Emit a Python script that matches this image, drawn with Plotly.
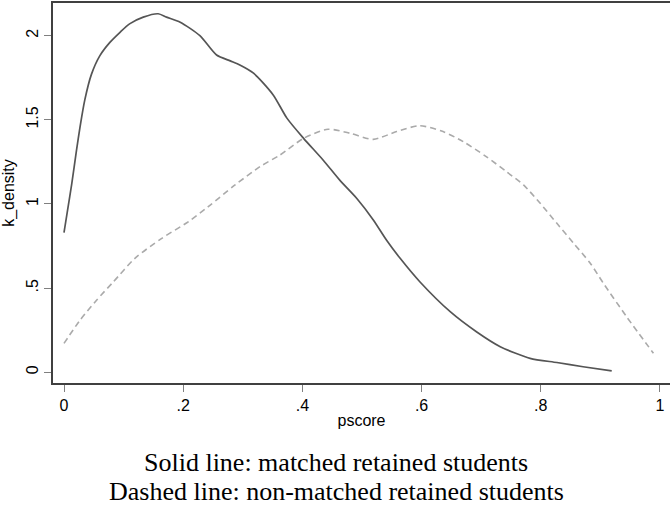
import plotly.graph_objects as go

# Solid line: matched retained students
matched_x = [0, 0.006, 0.013, 0.021, 0.027, 0.035, 0.046, 0.06, 0.077, 0.094, 0.11, 0.133,
             0.158, 0.172, 0.195, 0.228, 0.256, 0.279, 0.295, 0.318, 0.351, 0.374, 0.402,
             0.435, 0.463, 0.491, 0.519, 0.541, 0.564, 0.597, 0.648, 0.692, 0.732, 0.782,
             0.827, 0.871, 0.919]
matched_y = [0.83, 0.964, 1.12, 1.32, 1.46, 1.62, 1.77, 1.88, 1.96, 2.02, 2.07, 2.11,
             2.13, 2.11, 2.08, 2.00, 1.885, 1.85, 1.826, 1.777, 1.648, 1.51, 1.39,
             1.26, 1.14, 1.034, 0.905, 0.786, 0.677, 0.538, 0.36, 0.241, 0.152, 0.083,
             0.058, 0.033, 0.008]

# Dashed line: non-matched retained students
nonmatched_x = [0, 0.027, 0.055, 0.083, 0.119, 0.164, 0.209, 0.242, 0.287, 0.329, 0.362,
                0.402, 0.443, 0.48, 0.519, 0.558, 0.597, 0.636, 0.67, 0.709, 0.743, 0.771,
                0.799, 0.827, 0.855, 0.883, 0.905, 0.944, 0.989]
nonmatched_y = [0.172, 0.31, 0.43, 0.538, 0.677, 0.796, 0.895, 0.984, 1.113, 1.222, 1.29,
                1.39, 1.444, 1.42, 1.384, 1.43, 1.465, 1.43, 1.37, 1.28, 1.19, 1.113,
                1.004, 0.885, 0.767, 0.648, 0.529, 0.33, 0.113]

x_tickvals = [0, 0.2, 0.4, 0.6, 0.8, 1]
x_ticktext = ["0", ".2", ".4", ".6", ".8", "1"]
y_tickvals = [0, 0.5, 1, 1.5, 2]
y_ticktext = ["0", ".5", "1", "1.5", "2"]

fig = go.Figure()
fig.add_trace(go.Scatter(x=matched_x, y=matched_y, mode="lines", line_shape="spline",
                         line=dict(color="#555555", width=1.7, smoothing=0.7), showlegend=False))
fig.add_trace(go.Scatter(x=nonmatched_x, y=nonmatched_y, mode="lines", line_shape="spline",
                         line=dict(color="#aaaaaa", width=1.6, dash="6px,4px", smoothing=0.7),
                         showlegend=False))

tickfont = dict(family="Liberation Sans, Arial, sans-serif", size=16, color="#000000")
fig.update_layout(
    width=670, height=514,
    margin=dict(l=53, r=0, t=3, b=131),
    paper_bgcolor="white", plot_bgcolor="white",
    xaxis=dict(range=[-0.01846, 1.0168], tickvals=x_tickvals, ticktext=x_ticktext,
               showgrid=False, zeroline=False, showline=True, linecolor="#404040",
               linewidth=1.5, mirror=True, ticks="outside", ticklen=7, tickwidth=1,
               tickcolor="#808080", tickfont=tickfont,
               title=dict(text="pscore", font=dict(family="Liberation Sans, Arial, sans-serif",
                                                   size=16, color="#000000"), standoff=2)),
    yaxis=dict(range=[-0.0636, 2.194], tickvals=y_tickvals, ticktext=y_ticktext,
               showgrid=False, zeroline=False, showline=True, linecolor="#404040",
               linewidth=1.5, ticks="outside", ticklen=7, tickwidth=1,
               tickcolor="#808080", tickfont=tickfont, tickangle=-90,
               title=dict(text="k_density", font=dict(family="Liberation Sans, Arial, sans-serif",
                                                      size=16, color="#000000"), standoff=6)),
    annotations=[
        dict(text="Solid line: matched retained students", xref="paper", yref="paper",
             x=0.459, y=-0.2092, xanchor="center", yanchor="middle", showarrow=False,
             borderpad=0,
             font=dict(family="Liberation Serif, Times New Roman, serif", size=26, color="#000000")),
        dict(text="Dashed line: non-matched retained students", xref="paper", yref="paper",
             x=0.459, y=-0.2868, xanchor="center", yanchor="middle", showarrow=False,
             borderpad=0,
             font=dict(family="Liberation Serif, Times New Roman, serif", size=26, color="#000000")),
    ],
)

fig.write_html("out.html")
